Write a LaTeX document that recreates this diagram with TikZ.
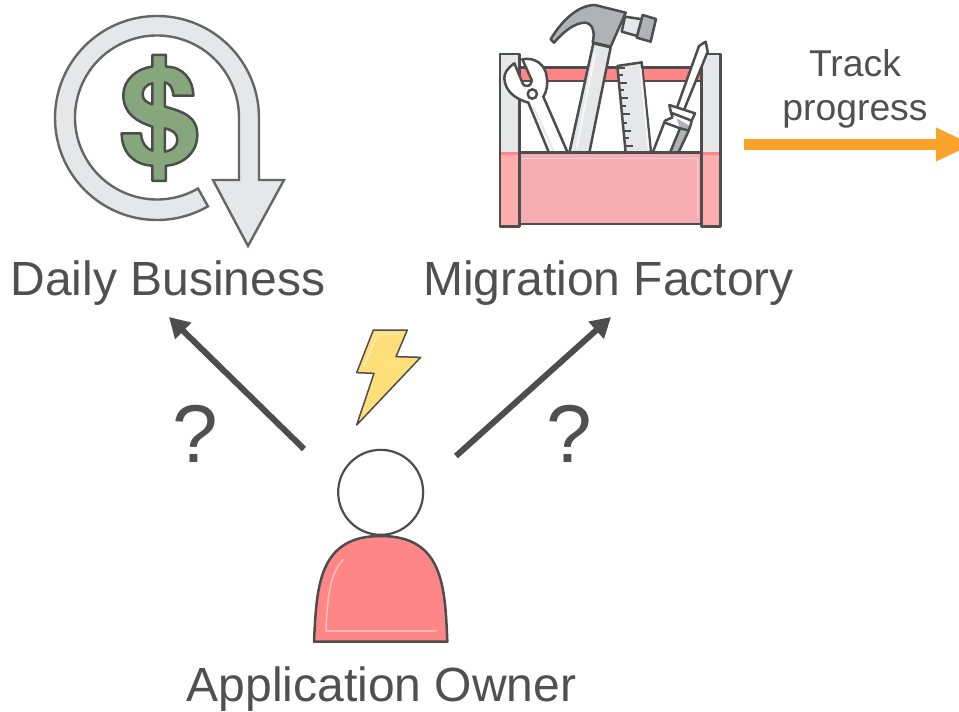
\documentclass[tikz,border=0pt]{standalone}
\usepackage{fontspec}
\setmainfont{Liberation Sans}
\definecolor{ink}{HTML}{4D4D4D}
\definecolor{txt}{HTML}{505050}
\definecolor{lightg}{HTML}{E6E7E8}
\definecolor{midg}{HTML}{B1B2B5}
\definecolor{salmon}{HTML}{FF8686}
\definecolor{boxp}{HTML}{F5ADB1}
\definecolor{postp}{HTML}{FFAEAE}
\definecolor{green1}{HTML}{86A67C}
\definecolor{bolt}{HTML}{FFDF7A}
\definecolor{orangeA}{HTML}{FAA32B}
\tikzset{
 big/.style={font=\fontsize{48}{52}\selectfont,text=txt,anchor=base,inner sep=0pt},
 small/.style={font=\fontsize{37.3}{42}\selectfont,text=txt,anchor=base,inner sep=0pt},
 qm/.style={font=\fontsize{82}{90}\selectfont,text=txt,anchor=base,inner sep=0pt},
 icon/.style={draw=ink,line width=2.5pt,line join=round},
 thin icon/.style={draw=ink,line width=1.5pt,line join=round},
 shine/.style={draw=white,opacity=.45,line width=1.6pt,line join=round},
 zoomed/.style={x=.33333pt,y=-.33333pt},
 bigarrow/.style={draw=ink,line width=6pt,-{Triangle[length=20pt,width=22pt]}},
 orangearrow/.style={draw=orangeA,line width=10.5pt,-{Triangle[length=37pt,width=31pt]}}
}
\usetikzlibrary{arrows.meta}
\begin{document}
\begin{tikzpicture}[x=1pt,y=-1pt]
\useasboundingbox (0,0) rectangle (959,712);
% ring arrow (upward y so that arcs keep their angles)
\begin{scope}[y=1pt]
\draw[fill=lightg,draw=black!60,line width=2.4pt,line join=miter]
 (259,-118) arc[start angle=0,end angle=300,radius=102]
 -- (198,-188.5) arc[start angle=300,end angle=0,radius=82]
 -- (239,-180) -- (213,-180) -- (248,-246) -- (284,-180) -- (259,-180) -- cycle;
\end{scope}
% dollar
\begin{scope}[shift={(40pt,0pt)},zoomed]
\draw[icon,fill=green1,even odd rule]
 (337,165) -- (378,165) -- (378,200) .. controls (430,200) and (460,240) .. (460,287)
 -- (400,287) .. controls (398,262) and (390,252) .. (375,247) -- (375,320)
 .. controls (430,335) and (472,350) .. (472,405) .. controls (472,460) and (425,495) .. (378,497)
 -- (378,543) -- (337,543) -- (337,497) .. controls (285,495) and (245,460) .. (245,400)
 -- (303,400) .. controls (305,430) and (320,447) .. (337,452) -- (337,380)
 .. controls (290,365) and (250,340) .. (250,285) .. controls (250,240) and (290,205) .. (337,200) -- cycle
 (337,250) .. controls (315,255) and (308,270) .. (308,283) .. controls (308,300) and (320,308) .. (337,313) -- cycle
 (375,385) .. controls (400,392) and (412,400) .. (412,420) .. controls (412,440) and (395,452) .. (375,455) -- cycle;
\end{scope}
% toolbox
\begin{scope}[shift={(480pt,0pt)},zoomed]
\fill[lightg] (60,162) rectangle (118,458);
\fill[lightg] (665,162) rectangle (722,458);
\fill[postp] (60,458) rectangle (118,680);
\fill[postp] (665,458) rectangle (722,680);
\fill[salmon] (60,456) rectangle (118,465);
\fill[salmon] (665,456) rectangle (722,465);
\draw[icon] (60,162) rectangle (118,680);
\draw[icon] (665,162) rectangle (722,680);
\draw[icon,fill=salmon] (118,203) rectangle (665,243);
% wrench
\draw[icon,fill=white]
 (103,190) .. controls (82,205) and (72,220) .. (73,235) .. controls (75,270) and (100,295) .. (145,308)
 -- (207,458) -- (263,458) -- (190,290) .. controls (200,275) and (205,250) .. (200,230)
 .. controls (197,195) and (165,170) .. (127,178) -- (155,240) .. controls (155,250) and (150,258) .. (140,258)
 .. controls (133,258) and (130,255) .. (128,250) -- cycle;
\draw[icon,fill=white] (157,282) circle[radius=14];
\draw[lightg,line width=2pt] (160,320) -- (220,452);
% hammer
\draw[icon,fill=lightg] (340,130) -- (392,142) -- (328,458) -- (268,458) -- cycle;
\draw[white,opacity=.7,line width=2pt] (345,160) -- (290,445);
\draw[icon,fill=lightg] (435,50) -- (425,95) -- (472,108) -- (488,58) -- cycle;
\draw[icon,fill=midg] (488,45) -- (528,57) -- (512,125) -- (470,113) -- cycle;
\draw[icon,fill=midg] (212,118) .. controls (240,70) and (290,15) .. (345,15) -- (437,38)
 -- (392,140) -- (338,127) .. controls (345,100) and (340,70) .. (315,68)
 .. controls (285,68) and (250,95) .. (222,128) -- cycle;
% ruler
\draw[icon,fill=lightg] (412,198) -- (485,187) -- (513,458) -- (437,458) -- cycle;
\draw[white,opacity=.7,line width=2pt] (482,205) -- (506,450);
\foreach \a/\b/\c in {203/414/436,225/416/428,248/418/440,270/421/433,295/423/445,318/425/437,343/428/450,368/430/442,392/432/454,415/434/446,438/436/460}
 \draw[ink,line width=2pt] (\b,\a) -- (\c,\a);
% screwdriver
\draw[icon,fill=white] (657,138) -- (677,125) -- (683,155) -- (612,330) -- (590,325) -- cycle;
\fill[white] (555,362) -- (578,352) -- (632,375) -- (625,395) -- (595,458) -- (518,458) -- cycle;
\fill[midg] (590,355) -- (630,378) -- (625,395) -- (595,458) -- (570,458) -- (600,385) -- cycle;
\draw[icon] (518,458) -- (555,362) -- (578,352) (632,375) -- (625,395) -- (595,458);
\draw[icon] (555,368) -- (600,385) -- (570,458) (600,385) -- (628,392);
\draw[icon,fill=white] (568,315) -- (645,340) -- (635,362) -- (573,338) -- cycle;
\draw[icon] (578,352) -- (573,338) (632,375) -- (635,362);
% front
\draw[icon,fill=boxp] (118,458) rectangle (665,672);
\draw[shine] (130,475) -- (652,475) -- (652,655);
\end{scope}
% person and bolt
\begin{scope}[shift={(290pt,-320pt)},zoomed]
\draw[thin icon,fill=bolt] (250,30) -- (352,30) -- (318,110) -- (392,112) -- (200,315) -- (252,160) -- (200,158) -- cycle;
\draw[shine] (328,43) -- (262,43) -- (222,140);
\draw[icon,fill=salmon] (72,965) .. controls (80,800) and (85,648) .. (272,648)
 .. controls (460,648) and (465,800) .. (472,965) -- cycle;
\draw[shine] (160,718) .. controls (120,760) and (112,830) .. (108,933) -- (440,933);
\node[draw=ink,line width=2.2pt,circle,minimum size=85pt,inner sep=0pt] (head) at (272,517) {};
\end{scope}
% labels
\node[big] (daily) at (168,295) {Daily Business};
\node[big] (factory) at (608.5,295) {Migration Factory};
\node[big] (owner) at (381.5,701) {Application Owner};
\node[small] (track) at (855,76) {Track};
\node[small] (progress) at (855,120) {progress};
\node[qm] (q1) at (195.5,462) {?};
\node[qm] (q2) at (569,462) {?};
% arrows
\coordinate (aL0) at (304,449); \coordinate (aL1) at (169,317);
\coordinate (aR0) at (456,456); \coordinate (aR1) at (611,317);
\coordinate (oA) at (744,144.5); \coordinate (oB) at (973,144.5);
\draw[bigarrow] (aL0) -- (aL1);
\draw[bigarrow] (aR0) -- (aR1);
\draw[orangearrow] (oA) -- (oB);
\end{tikzpicture}
\end{document}
